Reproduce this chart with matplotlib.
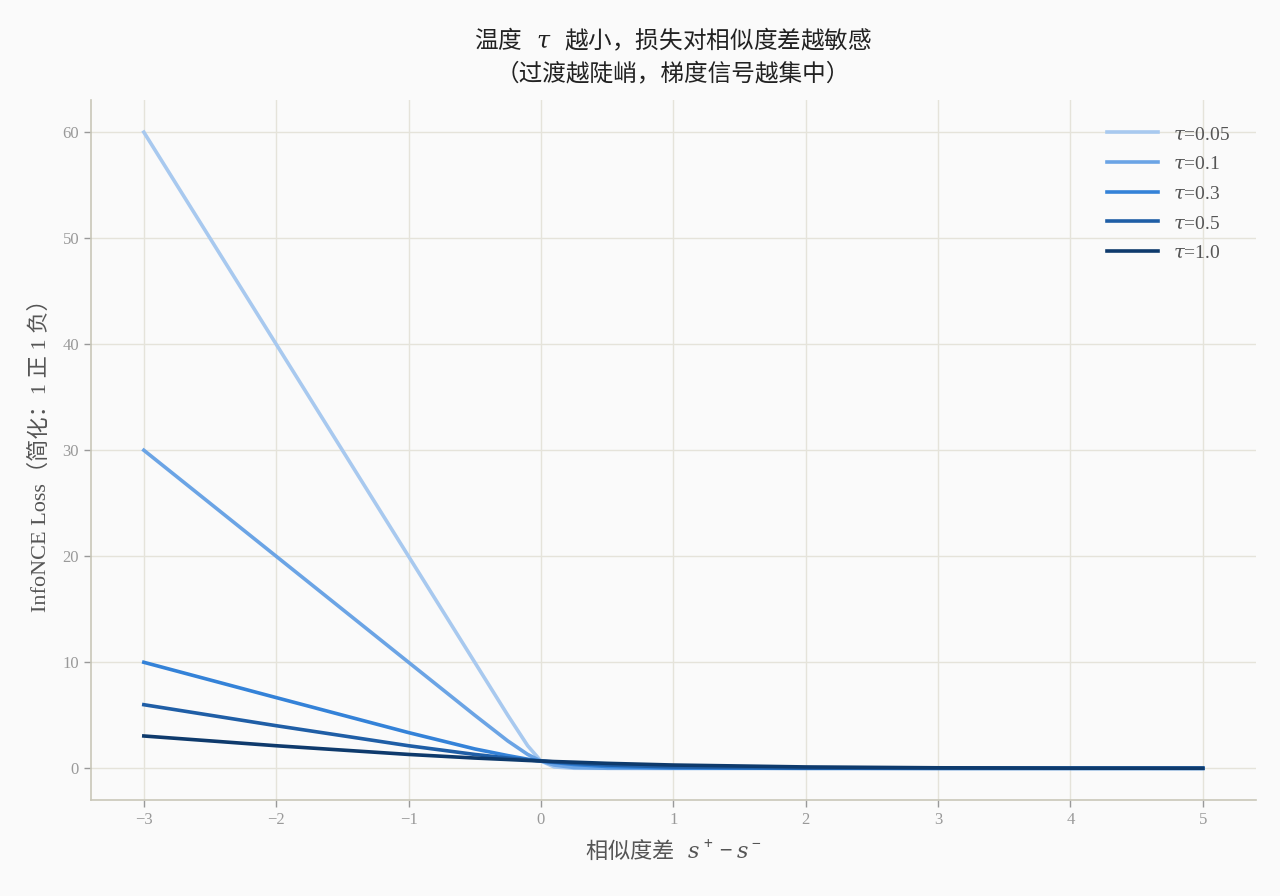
import numpy as np
import matplotlib
matplotlib.use("Agg")
import matplotlib.pyplot as plt

plt.rcParams['font.family'] = ['Liberation Serif', 'Noto Sans CJK SC', 'DejaVu Sans']
plt.rcParams['mathtext.fontset'] = 'custom'
plt.rcParams['mathtext.rm'] = 'Noto Sans CJK SC'
plt.rcParams['mathtext.it'] = 'DejaVu Serif:italic'
plt.rcParams['mathtext.default'] = 'it'
plt.rcParams['axes.unicode_minus'] = True

# similarity difference s+ - s-
diff = [-3.0, -2.0, -1.0, -0.5, -0.25, -0.1, 0.0, 0.1, 0.25, 0.5, 1.0, 2.0, 3.0, 4.0, 5.0]

tau_labels = ["0.05", "0.1", "0.3", "0.5", "1.0"]
loss_005 = [60.0, 40.0, 20.0, 10.0, 5.0, 2.13, 0.69, 0.13, 0.007, 0.0, 0.0, 0.0, 0.0, 0.0, 0.0]
loss_01 = [30.0, 20.0, 10.0, 5.01, 2.58, 1.31, 0.69, 0.31, 0.08, 0.007, 0.0, 0.0, 0.0, 0.0, 0.0]
loss_03 = [10.0, 6.67, 3.37, 1.83, 1.20, 0.86, 0.69, 0.55, 0.36, 0.17, 0.035, 0.001, 0.0, 0.0, 0.0]
loss_05 = [6.0, 4.02, 2.13, 1.31, 0.97, 0.80, 0.69, 0.60, 0.47, 0.31, 0.13, 0.018, 0.002, 0.0, 0.0]
loss_10 = [3.05, 2.13, 1.31, 0.97, 0.83, 0.74, 0.69, 0.64, 0.58, 0.47, 0.31, 0.13, 0.05, 0.018, 0.007]
losses = [loss_005, loss_01, loss_03, loss_05, loss_10]

colors = ['#a8c9ef', '#6ba4e5', '#3482d8', '#1f5ea6', '#0e3a6c']

bg = '#fafafa'
fig, ax = plt.subplots(figsize=(12.8, 8.96), dpi=100)
fig.patch.set_facecolor(bg)
ax.set_facecolor(bg)

for lab, y, c in zip(tau_labels, losses, colors):
    ax.plot(diff, y, color=c, lw=2.6, label=f"$\\tau$={lab}")

ax.set_xticks(range(-3, 6))
ax.set_yticks(range(0, 61, 10))
ax.grid(True, color='#e5e3da', lw=1.0)
ax.set_axisbelow(True)
for s in ['top', 'right']:
    ax.spines[s].set_visible(False)
for s in ['left', 'bottom']:
    ax.spines[s].set_color('#c9c7b9')
    ax.spines[s].set_linewidth(1.2)
ax.tick_params(colors='#999999', labelsize=12, length=5, width=1)

ax.set_xlabel("$\\mathrm{相似度差}\\ \\ s^+ - s^-$", fontsize=16, color='#555555', labelpad=8)
ax.set_ylabel("InfoNCE Loss（简化：1 正 1 负）", fontsize=16, color='#555555', labelpad=8)
ax.set_title("$\\mathrm{温度}\\ \\ \\tau\\ \\ \\mathrm{越小，损失对相似度差越敏感}$\n（过渡越陡峭，梯度信号越集中）",
             fontsize=17, color='#222222', pad=14, linespacing=1.55)

leg = ax.legend(loc='upper right', frameon=False, fontsize=14, handlelength=2.6,
                labelspacing=0.62, borderaxespad=0.9)
for t in leg.get_texts():
    t.set_color('#555555')

fig.subplots_adjust(left=0.071, right=0.981, top=0.888, bottom=0.107)
fig.savefig("out.png", dpi=100, facecolor=bg)
